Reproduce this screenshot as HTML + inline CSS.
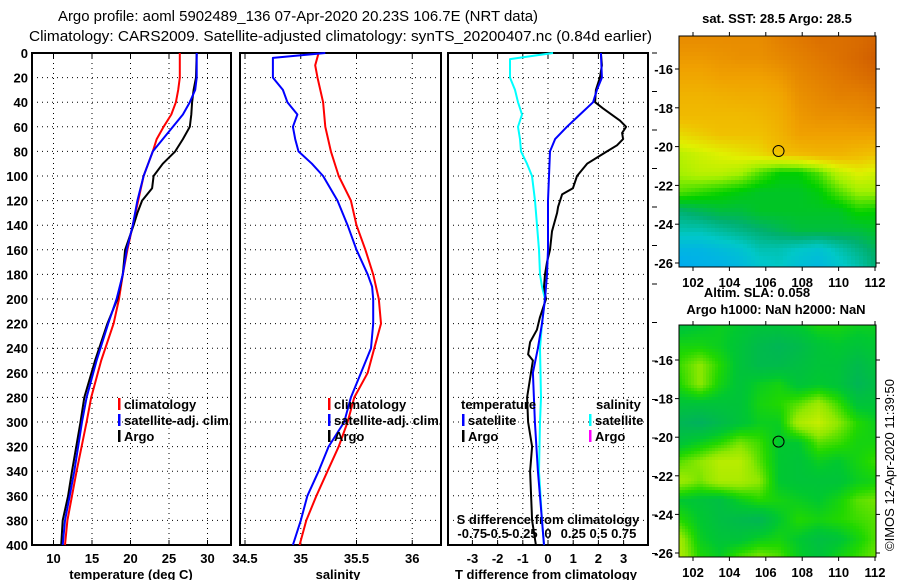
<!DOCTYPE html>
<html><head><meta charset="utf-8"><style>
html,body{margin:0;padding:0;background:#fff;}
svg{display:block;font-family:"Liberation Sans",Arial,sans-serif;}
.t{font-size:13px;font-weight:bold;fill:#000;}
.ttl{font-size:15px;fill:#000;}
</style></head><body>
<svg id="fig" width="900" height="580" viewBox="0 0 900 580" xmlns="http://www.w3.org/2000/svg">
<rect width="900" height="580" fill="#fff"/>
<text class="ttl" x="58" y="21" textLength="480" lengthAdjust="spacingAndGlyphs">Argo profile: aoml 5902489_136 07-Apr-2020 20.23S 106.7E (NRT data)</text>
<text class="ttl" x="29" y="41" textLength="623" lengthAdjust="spacingAndGlyphs">Climatology: CARS2009. Satellite-adjusted climatology: synTS_20200407.nc (0.84d earlier)</text>
<g id="plots"></g>
<g id="maps"></g>
<text class="t" transform="translate(894,465) rotate(-90)" text-anchor="middle" style="font-weight:normal;font-size:13px">©IMOS 12-Apr-2020 11:39:50</text>
</svg>
<script>
// ---------- data ----------
const depthTicks=[0,20,40,60,80,100,120,140,160,180,200,220,240,260,280,300,320,340,360,380,400];
const tempTicks=[10,15,20,25,30];
const salTicks=[34.5,35,35.5,36];
const tdiffTicks=[-3,-2,-1,0,1,2,3];
const sdiffTicks=[-0.75,-0.5,-0.25,0,0.25,0.5,0.75];
const sdiffLabels=["-0.75","-0.5","-0.25","0","0.25","0.5","0.75"];

const tClimDepth=[0,10,20,30,40,50,60,70,80,90,100,120,140,160,180,200,220,250,280,300,340,360,380,400];
const tClim=[26.4,26.4,26.4,26.2,25.9,25.3,24.3,23.4,22.9,22.3,21.7,21.0,20.3,19.6,19.0,18.5,17.8,16.2,14.9,14.3,13.0,12.4,11.8,11.5];
const tSatDepth=[0,10,20,30,40,50,60,70,80,90,100,120,140,160,180,200,220,250,280,300,340,360,380,400];
const tSat=[28.6,28.6,28.6,28.4,27.7,26.8,25.5,24.2,22.9,22.3,21.7,20.9,20.3,19.5,19.0,18.2,17.1,15.6,14.3,13.7,12.7,12.1,11.5,11.2];
const tArgoDepth=[0,20,30,40,50,60,70,80,90,100,110,120,130,140,160,180,200,220,250,280,300,340,360,380,400];
const tArgo=[28.6,28.5,28.2,28.0,27.9,27.7,26.8,25.8,24.2,23.0,22.8,21.5,20.9,20.4,19.3,19.0,18.3,17.0,15.4,14.0,13.5,12.4,11.9,11.2,11.0];

const sClimDepth=[0,10,20,40,60,80,100,120,140,160,180,200,220,240,260,280,300,320,340,360,380,400];
const sClim=[35.16,35.13,35.15,35.2,35.22,35.27,35.34,35.45,35.5,35.58,35.65,35.7,35.72,35.66,35.6,35.48,35.42,35.34,35.24,35.14,35.05,34.99];
const sSatDepth=[0,4,20,30,40,50,60,70,80,90,100,120,140,160,180,190,200,220,240,260,280,300,320,340,360,380,400];
const sSat=[35.22,34.75,34.75,34.84,34.88,34.97,34.93,34.95,34.98,35.1,35.2,35.33,35.42,35.5,35.6,35.64,35.65,35.65,35.63,35.54,35.45,35.39,35.25,35.16,35.06,35.0,34.93];

const dTSatDepth=[0,20,30,40,50,60,70,80,100,120,160,180,200,220,240,260,280,300,340,380,400];
const dTSat=[2.1,2.14,1.94,1.79,1.27,0.75,0.28,0.08,0.04,0,0,-0.04,-0.12,-0.24,-0.4,-0.6,-0.56,-0.52,-0.4,-0.24,-0.16];
const dTArgoDepth=[0,10,20,30,40,45,55,60,65,70,75,80,85,90,100,110,115,125,130,145,160,170,180,190,200,215,225,235,245,250,280,300,320,340,360,380,400];
const dTArgo=[2.1,2.14,2.06,1.9,1.87,2.18,2.86,3.1,2.94,2.98,2.74,2.34,1.94,1.55,1.15,0.99,0.56,0.4,0.36,0.16,0.08,-0.04,-0.12,-0.16,-0.08,-0.32,-0.44,-0.71,-0.79,-0.6,-0.83,-0.79,-0.63,-0.71,-0.67,-0.63,-0.48];
const dSSatDepth=[0,5,20,30,40,50,60,70,80,90,100,120,140,160,180,190,200,220,240,280,300,340,380,400];
const dSSat=[0.05,-0.376,-0.376,-0.327,-0.297,-0.257,-0.297,-0.277,-0.267,-0.208,-0.158,-0.129,-0.109,-0.089,-0.079,-0.059,-0.03,-0.059,-0.079,-0.069,-0.079,-0.089,-0.059,-0.04];

const lonTicks=[102,104,106,108,110,112];
const latTicks=[-16,-18,-20,-22,-24,-26];
const argoLon=106.7, argoLat=-20.23;
const sstGrid=[
[0.85,0.85,0.85,0.85,0.85,0.88,0.9,0.92,0.92,0.93,0.95],
[0.82,0.82,0.83,0.84,0.84,0.86,0.88,0.9,0.92,0.94,0.97],
[0.78,0.78,0.8,0.8,0.8,0.82,0.86,0.88,0.9,0.92,0.94],
[0.74,0.74,0.75,0.76,0.76,0.78,0.84,0.86,0.88,0.88,0.9],
[0.72,0.72,0.72,0.72,0.73,0.76,0.82,0.84,0.84,0.85,0.86],
[0.66,0.68,0.7,0.7,0.7,0.74,0.8,0.8,0.8,0.8,0.8],
[0.58,0.6,0.62,0.64,0.66,0.7,0.72,0.74,0.74,0.72,0.7],
[0.56,0.58,0.58,0.56,0.5,0.45,0.45,0.5,0.58,0.62,0.6],
[0.5,0.48,0.46,0.44,0.42,0.42,0.42,0.44,0.5,0.55,0.55],
[0.36,0.38,0.4,0.4,0.42,0.42,0.42,0.42,0.42,0.46,0.45],
[0.3,0.3,0.32,0.34,0.36,0.38,0.4,0.4,0.4,0.4,0.42],
[0.22,0.22,0.24,0.26,0.3,0.3,0.28,0.26,0.3,0.34,0.38],
[0.18,0.2,0.2,0.22,0.26,0.28,0.24,0.22,0.26,0.3,0.36]];
const slaGrid=[
[.3,.35,.4,.35,.3,.3,.35,.45,.45,.4,.4],
[.45,.45,.4,.3,.2,.15,.2,.3,.35,.3,.35],
[.55,.7,.5,.3,.2,.2,.25,.3,.3,.2,.3],
[.5,.7,.45,.3,.4,.45,.3,.35,.3,.15,.25],
[.3,.3,.3,.3,.45,.5,.6,.75,.55,.3,.3],
[.15,.1,.2,.3,.4,.4,.8,.9,.7,.5,.4],
[.3,.4,.5,.65,.55,.35,.35,.6,.55,.45,.45],
[.6,.7,.85,.85,.6,.35,.3,.4,.35,.45,.55],
[.75,.65,.8,.8,.7,.35,.3,.3,.3,.4,.45],
[.35,.3,.25,.4,.5,.45,.4,.35,.45,.6,.65],
[.5,.35,.25,.2,.15,.35,.5,.45,.5,.55,.6],
[.75,.4,.3,.3,.4,.45,.35,.25,.3,.45,.6],
[.8,.5,.4,.6,.7,.6,.4,.3,.45,.55,.65]];

// ---------- drawing ----------
const NS='http://www.w3.org/2000/svg';
function mk(tag,attrs,parent){const e=document.createElementNS(NS,tag);for(const k in attrs)e.setAttribute(k,attrs[k]);parent.appendChild(e);return e;}
const P=document.getElementById('plots');
const Y0=53,Y1=545;
const yD=d=>Y0+(d/400)*(Y1-Y0);
const xT=t=>53.5+(t-10)*7.7;
const xS=s=>245+(s-34.5)*111.5;
const xDT=v=>548+v*25.2;
const xDS=v=>548+v*101;
const panels=[[32,231],[240,441],[448,648]];

function txt(s,x,y,anchor,name,parent,extra){const t=mk('text',Object.assign({x:x,y:y,'text-anchor':anchor||'start',class:'t'},extra||{}),parent||P);t.textContent=s;


return t;}

panels.forEach((p,i)=>{
  const g=mk('g',{},P);
  
  
  depthTicks.forEach(d=>{
    if(d>0&&d<400){const l=mk('line',{x1:p[0],x2:p[1],y1:yD(d),y2:yD(d),stroke:'#000','stroke-width':1,'stroke-dasharray':'1,4'},g);
    
    }
  });
  const xt=i==0?tempTicks.map(xT):i==1?salTicks.map(xS):tdiffTicks.map(xDT);
  xt.forEach(x=>{const l=mk('line',{x1:x,x2:x,y1:Y0,y2:Y1,stroke:'#000','stroke-width':1,'stroke-dasharray':'1,4'},g);
    
    
    mk('line',{x1:x,x2:x,y1:Y0,y2:Y0+5,stroke:'#000'},g);mk('line',{x1:x,x2:x,y1:Y1,y2:Y1-5,stroke:'#000'},g);});
  const r=mk('rect',{x:p[0],y:Y0,width:p[1]-p[0],height:Y1-Y0,fill:'none',stroke:'#000','stroke-width':2},g);
  
  
});
depthTicks.forEach(d=>txt(String(d),28,yD(d)+5,'end','depth-tick-label'));
tempTicks.forEach(t=>txt(String(t),xT(t),563,'middle','temperature-tick-label'));
salTicks.forEach(s=>txt(String(s),xS(s),563,'middle','salinity-tick-label'));
tdiffTicks.forEach(v=>txt(String(v),xDT(v),563,'middle','tdiff-tick-label'));
sdiffTicks.forEach((v,k)=>txt(sdiffLabels[k],xDS(v),538,'middle','sdiff-tick-label'));
txt('S difference from climatology',548,524,'middle','sdiff-axis-title');
txt('temperature (deg C)',131,579,'middle','x-axis-title-temperature');
txt('salinity',338,579,'middle','x-axis-title-salinity');
txt('T difference from climatology',546,579,'middle','x-axis-title-tdiff');
for(let k=0;k<14;k++){mk('line',{x1:652,x2:657,y1:53+38.5*k,y2:53+38.5*k,stroke:'#000'},P);}

function series(depths,vals,xf,color,name,w){
  const pts=depths.map((d,k)=>xf(vals[k]).toFixed(1)+','+yD(d).toFixed(1)).join(' ');
  const l=mk('polyline',{points:pts,fill:'none',stroke:color,'stroke-width':w||2,'stroke-linejoin':'round'},P);
  
  
}
series(tClimDepth,tClim,xT,'#f00','temp-climatology-line');
series(tArgoDepth,tArgo,xT,'#000','temp-argo-line');
series(tSatDepth,tSat,xT,'#00f','temp-satellite-line');
series(sClimDepth,sClim,xS,'#f00','sal-climatology-line');
series(sSatDepth,sSat,xS,'#00f','sal-satellite-line');
series(dSSatDepth,dSSat,xDS,'#0ff','sdiff-satellite-line');
series(dTArgoDepth,dTArgo,xDT,'#000','tdiff-argo-line');
series(dTSatDepth,dTSat,xDT,'#00f','tdiff-satellite-line');

function legend(x,y,color,label,name){
  const b=mk('rect',{x:x,y:y-11,width:2.5,height:12,fill:color},P);
  
  
  txt(label,x+6,y,'start',name);
}
legend(118,409,'#f00','climatology','legend-climatology');
legend(118,425,'#00f','satellite-adj. clim.','legend-satellite-adj');
legend(118,441,'#000','Argo','legend-argo');
legend(328,409,'#f00','climatology','legend2-climatology');
legend(328,425,'#00f','satellite-adj. clim.','legend2-satellite-adj');
legend(328,441,'#000','Argo','legend2-argo');
txt('temperature',461,409,'start','legend-temperature-heading');
txt('salinity',596,409,'start','legend-salinity-heading');
legend(462,425,'#00f','satellite','legend-tdiff-satellite');
legend(462,441,'#000','Argo','legend-tdiff-argo');
legend(589,425,'#0ff','satellite','legend-sdiff-satellite');
legend(589,441,'#f0f','Argo','legend-sdiff-argo');

// ---------- maps ----------
const M=document.getElementById('maps');
const sstStops=[[0,[0,48,224]],[0.15,[0,160,255]],[0.28,[0,200,200]],[0.36,[0,176,112]],[0.45,[0,208,0]],[0.55,[160,240,0]],[0.62,[224,240,0]],[0.7,[240,192,0]],[0.8,[240,160,0]],[0.9,[224,120,0]],[1,[200,80,0]]];
const slaStops=[[0,[0,168,112]],[0.35,[0,200,48]],[0.5,[32,216,0]],[0.7,[144,232,0]],[1,[224,240,0]]];
function cmap(stops,v){v=Math.max(0,Math.min(1,v));for(let i=1;i<stops.length;i++){if(v<=stops[i][0]){const a=stops[i-1],b=stops[i],f=(v-a[0])/(b[0]-a[0]);return 'rgb('+a[1].map((c,j)=>Math.round(c+(b[1][j]-c)*f)).join(',')+')';}}return 'rgb('+stops[stops.length-1][1].join(',')+')';}
function sample(grid,fx,fy){const R=grid.length,C=grid[0].length;let gx=fx*(C-1),gy=fy*(R-1);const i=Math.min(Math.floor(gy),R-2),j=Math.min(Math.floor(gx),C-2);const u=gy-i,w=gx-j;return grid[i][j]*(1-u)*(1-w)+grid[i][j+1]*(1-u)*w+grid[i+1][j]*u*(1-w)+grid[i+1][j+1]*u*w;}
function drawMap(x0,y0,x1,y1,grid,stops,cell,name,yLon,lat16y,lat26y){
  const g=mk('g',{},M);
  
  
  for(let y=y0;y<y1;y+=cell){for(let x=x0;x<x1;x+=cell){
    const v=sample(grid,(x-x0)/(x1-x0),(y-y0)/(y1-y0));
    const c=mk('rect',{x:x,y:y,width:Math.min(cell,x1-x)+0.3,height:Math.min(cell,y1-y)+0.3,fill:cmap(stops,v)},g);
    
    
  }}
  const lonX=l=>693+(l-102)*18.2;
  const latY=l=>lat16y+(-16-l)*(lat26y-lat16y)/10;
  const f=mk('rect',{x:x0,y:y0,width:x1-x0,height:y1-y0,fill:'none',stroke:'#000','stroke-width':1},g);
  
  
  lonTicks.forEach(l=>{const x=lonX(l);mk('line',{x1:x,x2:x,y1:y1,y2:y1+4,stroke:'#000'},g);mk('line',{x1:x,x2:x,y1:y0,y2:y0-4,stroke:'#000'},g);txt(String(l),x,yLon,'middle','longitude-tick-label',g);});
  latTicks.forEach(l=>{const y=latY(l);mk('line',{x1:x0-4,x2:x0,y1:y,y2:y,stroke:'#000'},g);mk('line',{x1:x1,x2:x1+4,y1:y,y2:y,stroke:'#000'},g);txt(String(l),673,y+5,'end','latitude-tick-label',g);});
  const c=mk('circle',{cx:lonX(argoLon),cy:latY(argoLat),r:5.5,fill:'none',stroke:'#000','stroke-width':1},g);
  
  
}
drawMap(679,36,876,267,sstGrid,sstStops,4,'sst-map',287,69,263);
drawMap(679,325,876,557,slaGrid,slaStops,3,'sla-map',577,360,553);
txt('sat. SST: 28.5 Argo: 28.5',777,23,'middle','sst-map-title',M);
txt('Altim. SLA: 0.058',757,297,'middle','sla-label',M);
txt('Argo h1000: NaN h2000: NaN',776,314,'middle','sla-map-title',M);
</script>
</body></html>
